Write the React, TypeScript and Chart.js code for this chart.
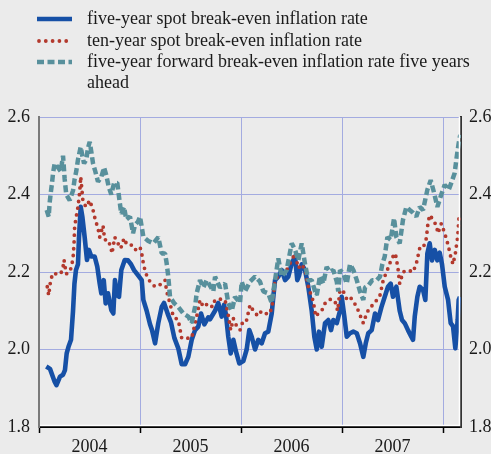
import React, { useEffect, useRef } from "react";
import { Chart, registerables } from "chart.js";

Chart.register(...registerables);

// ---- data ----
const yearLabels = ["2004", "2005", "2006", "2007"];
const yearBoundaries = [2004, 2005, 2006, 2007, 2008];
const yTickValues = [1.8, 2.0, 2.2, 2.4, 2.6];
const xMin = 2004;
const xMax = 2008.178;

const seriesLabels = [
  "five-year spot break-even inflation rate",
  "ten-year spot break-even inflation rate",
  "five-year forward break-even inflation rate five years ahead",
];

const fiveYearSpotDates = [
  2004.072, 2004.109, 2004.155, 2004.173, 2004.208, 2004.238, 2004.257, 2004.274, 2004.292, 2004.317,
  2004.337, 2004.351, 2004.366, 2004.386, 2004.396, 2004.413, 2004.429, 2004.452, 2004.475, 2004.495,
  2004.518, 2004.551, 2004.577, 2004.601, 2004.617, 2004.641, 2004.660, 2004.683, 2004.716, 2004.736,
  2004.752, 2004.772, 2004.792, 2004.815, 2004.849, 2004.881, 2004.911, 2004.941, 2004.970, 2005.017,
  2005.033, 2005.066, 2005.099, 2005.119, 2005.149, 2005.181, 2005.215, 2005.238, 2005.280, 2005.307,
  2005.340, 2005.379, 2005.413, 2005.446, 2005.478, 2005.512, 2005.545, 2005.577, 2005.604, 2005.637,
  2005.676, 2005.693, 2005.743, 2005.775, 2005.809, 2005.832, 2005.851, 2005.874, 2005.898, 2005.924,
  2005.950, 2005.983, 2006.023, 2006.056, 2006.082, 2006.106, 2006.139, 2006.171, 2006.205, 2006.238,
  2006.270, 2006.304, 2006.320, 2006.337, 2006.369, 2006.403, 2006.436, 2006.468, 2006.502, 2006.535,
  2006.557, 2006.574, 2006.601, 2006.634, 2006.666, 2006.700, 2006.726, 2006.750, 2006.772, 2006.799,
  2006.832, 2006.864, 2006.891, 2006.914, 2006.948, 2006.980, 2006.997, 2007.023, 2007.047, 2007.079,
  2007.112, 2007.146, 2007.178, 2007.211, 2007.235, 2007.260, 2007.294, 2007.327, 2007.356, 2007.391,
  2007.423, 2007.455, 2007.482, 2007.505, 2007.538, 2007.571, 2007.594, 2007.621, 2007.653, 2007.686,
  2007.703, 2007.720, 2007.746, 2007.769, 2007.802, 2007.825, 2007.845, 2007.868, 2007.891, 2007.918,
  2007.944, 2007.967, 2007.990, 2008.017, 2008.050, 2008.076, 2008.099, 2008.122, 2008.145, 2008.155,
  2008.168,
];
const fiveYearSpotValues = [
  1.956, 1.950, 1.917, 1.908, 1.930, 1.935, 1.947, 1.990, 2.007, 2.025,
  2.100, 2.170, 2.205, 2.220, 2.290, 2.368, 2.343, 2.290, 2.231, 2.257,
  2.240, 2.240, 2.214, 2.170, 2.145, 2.179, 2.119, 2.145, 2.102, 2.093,
  2.179, 2.140, 2.136, 2.205, 2.231, 2.230, 2.220, 2.205, 2.195, 2.179,
  2.128, 2.100, 2.065, 2.050, 2.016, 2.068, 2.110, 2.120, 2.088, 2.070,
  2.030, 2.003, 1.962, 1.962, 1.981, 2.025, 2.050, 2.059, 2.093, 2.065,
  2.083, 2.078, 2.100, 2.120, 2.085, 2.115, 2.090, 2.033, 1.990, 2.025,
  1.995, 1.964, 1.970, 2.000, 2.050, 2.033, 2.000, 2.025, 2.016, 2.042,
  2.046, 2.093, 2.136, 2.179, 2.188, 2.205, 2.179, 2.188, 2.222, 2.240,
  2.179, 2.190, 2.220, 2.205, 2.162, 2.100, 2.033, 2.000, 2.046, 2.007,
  2.068, 2.076, 2.050, 2.076, 2.068, 2.100, 2.136, 2.085, 2.033, 2.042,
  2.046, 2.042, 2.016, 1.981, 2.016, 2.042, 2.050, 2.093, 2.076, 2.110,
  2.136, 2.162, 2.170, 2.136, 2.162, 2.100, 2.076, 2.068, 2.050, 2.033,
  2.025, 2.085, 2.136, 2.162, 2.154, 2.128, 2.248, 2.274, 2.230, 2.257,
  2.230, 2.250, 2.220, 2.162, 2.128, 2.068, 2.060, 2.003, 2.076, 2.128,
  2.136,
];

const tenYearSpotDates = [
  2004.082, 2004.096, 2004.116, 2004.139, 2004.171, 2004.215, 2004.238, 2004.248, 2004.270, 2004.304,
  2004.320, 2004.337, 2004.347, 2004.353, 2004.369, 2004.386, 2004.403, 2004.413, 2004.436, 2004.468,
  2004.502, 2004.535, 2004.557, 2004.584, 2004.601, 2004.634, 2004.650, 2004.683, 2004.710, 2004.723,
  2004.750, 2004.782, 2004.809, 2004.842, 2004.864, 2004.901, 2004.950, 2005.000, 2005.023, 2005.033,
  2005.056, 2005.099, 2005.149, 2005.181, 2005.215, 2005.248, 2005.264, 2005.297, 2005.330, 2005.379,
  2005.413, 2005.462, 2005.512, 2005.561, 2005.594, 2005.627, 2005.676, 2005.716, 2005.743, 2005.792,
  2005.842, 2005.874, 2005.898, 2005.924, 2005.957, 2005.990, 2006.023, 2006.056, 2006.089, 2006.122,
  2006.155, 2006.181, 2006.221, 2006.254, 2006.287, 2006.314, 2006.337, 2006.369, 2006.403, 2006.452,
  2006.502, 2006.535, 2006.567, 2006.601, 2006.634, 2006.666, 2006.716, 2006.740, 2006.765, 2006.799,
  2006.832, 2006.864, 2006.898, 2006.931, 2006.957, 2006.980, 2007.013, 2007.047, 2007.079, 2007.112,
  2007.146, 2007.178, 2007.211, 2007.244, 2007.277, 2007.310, 2007.344, 2007.376, 2007.409, 2007.449,
  2007.472, 2007.505, 2007.528, 2007.554, 2007.571, 2007.604, 2007.653, 2007.703, 2007.736, 2007.769,
  2007.802, 2007.835, 2007.851, 2007.868, 2007.901, 2007.934, 2007.950, 2007.983, 2008.017, 2008.050,
  2008.076, 2008.099, 2008.122, 2008.145, 2008.158, 2008.171,
];
const tenYearSpotValues = [
  2.162, 2.140, 2.180, 2.197, 2.195, 2.195, 2.213, 2.231, 2.195, 2.200,
  2.213, 2.235, 2.274, 2.317, 2.343, 2.368, 2.407, 2.446, 2.380, 2.368,
  2.385, 2.360, 2.335, 2.313, 2.290, 2.320, 2.283, 2.283, 2.265, 2.248,
  2.290, 2.274, 2.261, 2.287, 2.274, 2.274, 2.257, 2.265, 2.240, 2.222,
  2.197, 2.175, 2.162, 2.165, 2.170, 2.179, 2.150, 2.119, 2.085, 2.076,
  2.029, 2.029, 2.030, 2.085, 2.128, 2.110, 2.119, 2.110, 2.128, 2.130,
  2.128, 2.089, 2.050, 2.080, 2.060, 2.050, 2.076, 2.076, 2.115, 2.100,
  2.090, 2.100, 2.090, 2.093, 2.093, 2.120, 2.179, 2.190, 2.200, 2.205,
  2.231, 2.248, 2.210, 2.220, 2.205, 2.162, 2.124, 2.085, 2.093, 2.100,
  2.119, 2.128, 2.130, 2.124, 2.100, 2.154, 2.150, 2.130, 2.136, 2.124,
  2.110, 2.089, 2.068, 2.093, 2.110, 2.115, 2.128, 2.140, 2.180, 2.205,
  2.222, 2.240, 2.248, 2.210, 2.170, 2.200, 2.205, 2.200, 2.222, 2.261,
  2.261, 2.287, 2.326, 2.347, 2.335, 2.320, 2.300, 2.325, 2.300, 2.270,
  2.240, 2.220, 2.248, 2.290, 2.340, 2.347,
];

const fiveYearForwardDates = [
  2004.076, 2004.096, 2004.106, 2004.116, 2004.129, 2004.139, 2004.155, 2004.188, 2004.215, 2004.238,
  2004.254, 2004.270, 2004.304, 2004.337, 2004.353, 2004.369, 2004.386, 2004.413, 2004.429, 2004.446,
  2004.468, 2004.485, 2004.502, 2004.518, 2004.535, 2004.557, 2004.584, 2004.617, 2004.644, 2004.666,
  2004.690, 2004.716, 2004.743, 2004.775, 2004.799, 2004.815, 2004.842, 2004.864, 2004.901, 2004.931,
  2004.950, 2004.980, 2005.000, 2005.033, 2005.082, 2005.132, 2005.181, 2005.215, 2005.248, 2005.264,
  2005.280, 2005.297, 2005.340, 2005.379, 2005.429, 2005.478, 2005.512, 2005.545, 2005.561, 2005.594,
  2005.627, 2005.660, 2005.693, 2005.726, 2005.743, 2005.792, 2005.842, 2005.874, 2005.908, 2005.941,
  2005.990, 2006.007, 2006.040, 2006.089, 2006.139, 2006.188, 2006.221, 2006.270, 2006.304, 2006.320,
  2006.337, 2006.369, 2006.403, 2006.452, 2006.502, 2006.535, 2006.567, 2006.601, 2006.634, 2006.666,
  2006.700, 2006.733, 2006.750, 2006.782, 2006.815, 2006.848, 2006.881, 2006.914, 2006.948, 2006.963,
  2006.980, 2007.013, 2007.047, 2007.079, 2007.112, 2007.146, 2007.178, 2007.211, 2007.228, 2007.260,
  2007.300, 2007.344, 2007.376, 2007.399, 2007.423, 2007.449, 2007.482, 2007.515, 2007.538, 2007.571,
  2007.604, 2007.637, 2007.670, 2007.703, 2007.736, 2007.769, 2007.802, 2007.845, 2007.878, 2007.911,
  2007.944, 2007.983, 2008.017, 2008.056, 2008.082, 2008.115, 2008.136, 2008.155, 2008.171,
];
const fiveYearForwardValues = [
  2.360, 2.343, 2.380, 2.403, 2.430, 2.455, 2.480, 2.470, 2.460, 2.500,
  2.440, 2.400, 2.385, 2.410, 2.440, 2.460, 2.490, 2.523, 2.500, 2.480,
  2.490, 2.520, 2.536, 2.510, 2.480, 2.460, 2.433, 2.445, 2.470, 2.450,
  2.420, 2.400, 2.430, 2.430, 2.380, 2.350, 2.368, 2.335, 2.343, 2.300,
  2.321, 2.330, 2.343, 2.291, 2.280, 2.274, 2.290, 2.248, 2.248, 2.222,
  2.188, 2.136, 2.119, 2.110, 2.093, 2.085, 2.068, 2.110, 2.145, 2.179,
  2.160, 2.179, 2.165, 2.150, 2.188, 2.160, 2.170, 2.120, 2.100, 2.136,
  2.120, 2.175, 2.150, 2.175, 2.188, 2.175, 2.150, 2.145, 2.120, 2.150,
  2.179, 2.235, 2.188, 2.205, 2.274, 2.257, 2.230, 2.274, 2.220, 2.179,
  2.179, 2.150, 2.140, 2.190, 2.170, 2.213, 2.200, 2.205, 2.175, 2.150,
  2.205, 2.196, 2.170, 2.220, 2.205, 2.179, 2.150, 2.128, 2.160, 2.165,
  2.179, 2.179, 2.188, 2.220, 2.240, 2.290, 2.283, 2.339, 2.290, 2.274,
  2.335, 2.368, 2.360, 2.353, 2.343, 2.368, 2.360, 2.412, 2.437, 2.405,
  2.368, 2.400, 2.425, 2.412, 2.430, 2.455, 2.498, 2.532, 2.554,
];

// ---- styles ----
const BG = "#ebebeb";
const GRID = "#a3abe0";
const TEXT = "#1a1a1a";
const FONT = '"Liberation Serif", "Times New Roman", serif';

const toPoints = (xs: number[], ys: number[]) => xs.map((x, i) => ({ x, y: ys[i] }));

const backgroundPlugin = {
  id: "bg",
  beforeDraw(chart: any) {
    const ctx = chart.ctx;
    ctx.save();
    ctx.fillStyle = BG;
    ctx.fillRect(0, 0, chart.width, chart.height);
    ctx.restore();
  },
};

const frameHighlightPlugin = {
  id: "frameHighlight",
  afterDatasetsDraw(chart: any) {
    const { ctx, chartArea } = chart;
    ctx.save();
    ctx.strokeStyle = "#ffffff";
    ctx.lineWidth = 1.5;
    ctx.beginPath();
    ctx.moveTo(chartArea.left + 1, chartArea.bottom - 1.5);
    ctx.lineTo(chartArea.right - 1.5, chartArea.bottom - 1.5);
    ctx.lineTo(chartArea.right - 1.5, chartArea.top);
    ctx.stroke();
    ctx.restore();
  },
};

const legendPlugin = {
  id: "customLegend",
  afterDraw(chart: any) {
    const ctx = chart.ctx;
    const rowY = [19, 41, 62];
    const lineH = 21.5;
    const x0 = 37;
    const x1 = 72;
    const tx = 87;
    const maxW = chart.width - tx - 6;
    ctx.save();
    chart.data.datasets.forEach((ds: any, i: number) => {
      const y = rowY[i];
      ctx.save();
      ctx.strokeStyle = ds.borderColor;
      ctx.lineWidth = ds.borderWidth;
      ctx.lineCap = ds.borderCapStyle || "butt";
      ctx.setLineDash(ds.borderDash || []);
      ctx.beginPath();
      ctx.moveTo(x0 + (ds.borderCapStyle === "round" ? 2 : 0), y);
      ctx.lineTo(x1, y);
      ctx.stroke();
      ctx.restore();

      ctx.font = `18px ${FONT}`;
      ctx.fillStyle = TEXT;
      ctx.textBaseline = "middle";
      ctx.textAlign = "left";
      const words = String(ds.label).split(" ");
      let line = "";
      let ly = y;
      words.forEach((w) => {
        const test = line ? line + " " + w : w;
        if (ctx.measureText(test).width > maxW && line) {
          ctx.fillText(line, tx, ly);
          line = w;
          ly += lineH;
        } else {
          line = test;
        }
      });
      if (line) ctx.fillText(line, tx, ly);
    });
    ctx.restore();
  },
};

export default function App() {
  const canvasRef = useRef<HTMLCanvasElement | null>(null);

  useEffect(() => {
    document.body.style.margin = "0";
    document.body.style.background = BG;
    const canvas = canvasRef.current;
    if (!canvas) return;

    const yearMids = yearLabels.map((y) => Number(y) + 0.5);

    const chart = new Chart(canvas, {
      type: "line",
      data: {
        datasets: [
          {
            label: seriesLabels[0],
            data: toPoints(fiveYearSpotDates, fiveYearSpotValues),
            borderColor: "#1650a6",
            borderWidth: 4.6,
            borderJoinStyle: "round",
            borderCapStyle: "butt",
            pointRadius: 0,
            tension: 0,
            order: 3,
            xAxisID: "x",
            yAxisID: "y",
          },
          {
            label: seriesLabels[1],
            data: toPoints(tenYearSpotDates, tenYearSpotValues),
            borderColor: "#b3392d",
            borderWidth: 3.8,
            borderCapStyle: "round",
            borderJoinStyle: "round",
            borderDash: [0, 6.8],
            pointRadius: 0,
            tension: 0,
            order: 2,
            xAxisID: "x",
            yAxisID: "y",
          },
          {
            label: seriesLabels[2],
            data: toPoints(fiveYearForwardDates, fiveYearForwardValues),
            borderColor: "#58909c",
            borderWidth: 4.5,
            borderCapStyle: "butt",
            borderJoinStyle: "bevel",
            borderDash: [7, 3.5],
            pointRadius: 0,
            tension: 0,
            order: 1,
            xAxisID: "x",
            yAxisID: "y",
          },
        ],
      },
      options: {
        responsive: false,
        maintainAspectRatio: false,
        animation: false,
        devicePixelRatio: 1,
        layout: { padding: { top: 117, left: 0, right: 0, bottom: 0 } },
        plugins: {
          legend: { display: false },
          tooltip: { enabled: false },
        },
        scales: {
          x: {
            type: "linear",
            position: "bottom",
            min: xMin,
            max: xMax,
            afterBuildTicks(scale: any) {
              const vals = [...yearBoundaries, ...yearMids].sort((a, b) => a - b);
              scale.ticks = vals.map((v) => ({ value: v }));
            },
            afterFit(scale: any) {
              scale.height = 27;
            },
            grid: {
              color: (c: any) =>
                c.tick && Number.isInteger(c.tick.value) ? GRID : "rgba(0,0,0,0)",
              tickColor: (c: any) =>
                c.tick && Number.isInteger(c.tick.value) ? "#000000" : "rgba(0,0,0,0)",
              lineWidth: 1,
              tickWidth: 1.5,
              tickLength: 6,
              drawTicks: true,
            },
            border: { display: true, color: "#000000", width: 2 },
            ticks: {
              autoSkip: false,
              maxRotation: 0,
              padding: 3,
              color: TEXT,
              font: { family: FONT, size: 18 },
              callback: (v: any) => {
                const idx = yearMids.indexOf(Number(v));
                return idx >= 0 ? yearLabels[idx] : "";
              },
            },
          },
          y: {
            type: "linear",
            position: "left",
            min: 1.8,
            max: 2.6,
            afterBuildTicks(scale: any) {
              scale.ticks = yTickValues.map((v) => ({ value: v }));
            },
            afterFit(scale: any) {
              scale.width = 39;
            },
            grid: { color: GRID, lineWidth: 1, drawTicks: false },
            border: { display: true, color: "#7a7a7a", width: 2 },
            ticks: {
              padding: 9,
              color: TEXT,
              font: { family: FONT, size: 18 },
              callback: (v: any) => Number(v).toFixed(1),
            },
          },
          y2: {
            type: "linear",
            position: "right",
            min: 1.8,
            max: 2.6,
            afterBuildTicks(scale: any) {
              scale.ticks = yTickValues.map((v) => ({ value: v }));
            },
            afterFit(scale: any) {
              scale.width = 30;
            },
            grid: { display: false, drawTicks: false, drawOnChartArea: false },
            border: { display: true, color: "#333333", width: 2 },
            ticks: {
              padding: 8,
              color: TEXT,
              font: { family: FONT, size: 18 },
              callback: (v: any) => Number(v).toFixed(1),
            },
          },
        },
      } as any,
      plugins: [backgroundPlugin, frameHighlightPlugin, legendPlugin],
    });

    return () => chart.destroy();
  }, []);

  return (
    <div style={{ width: 491, height: 454, background: BG }}>
      <canvas ref={canvasRef} width={491} height={454} style={{ display: "block" }} />
    </div>
  );
}
